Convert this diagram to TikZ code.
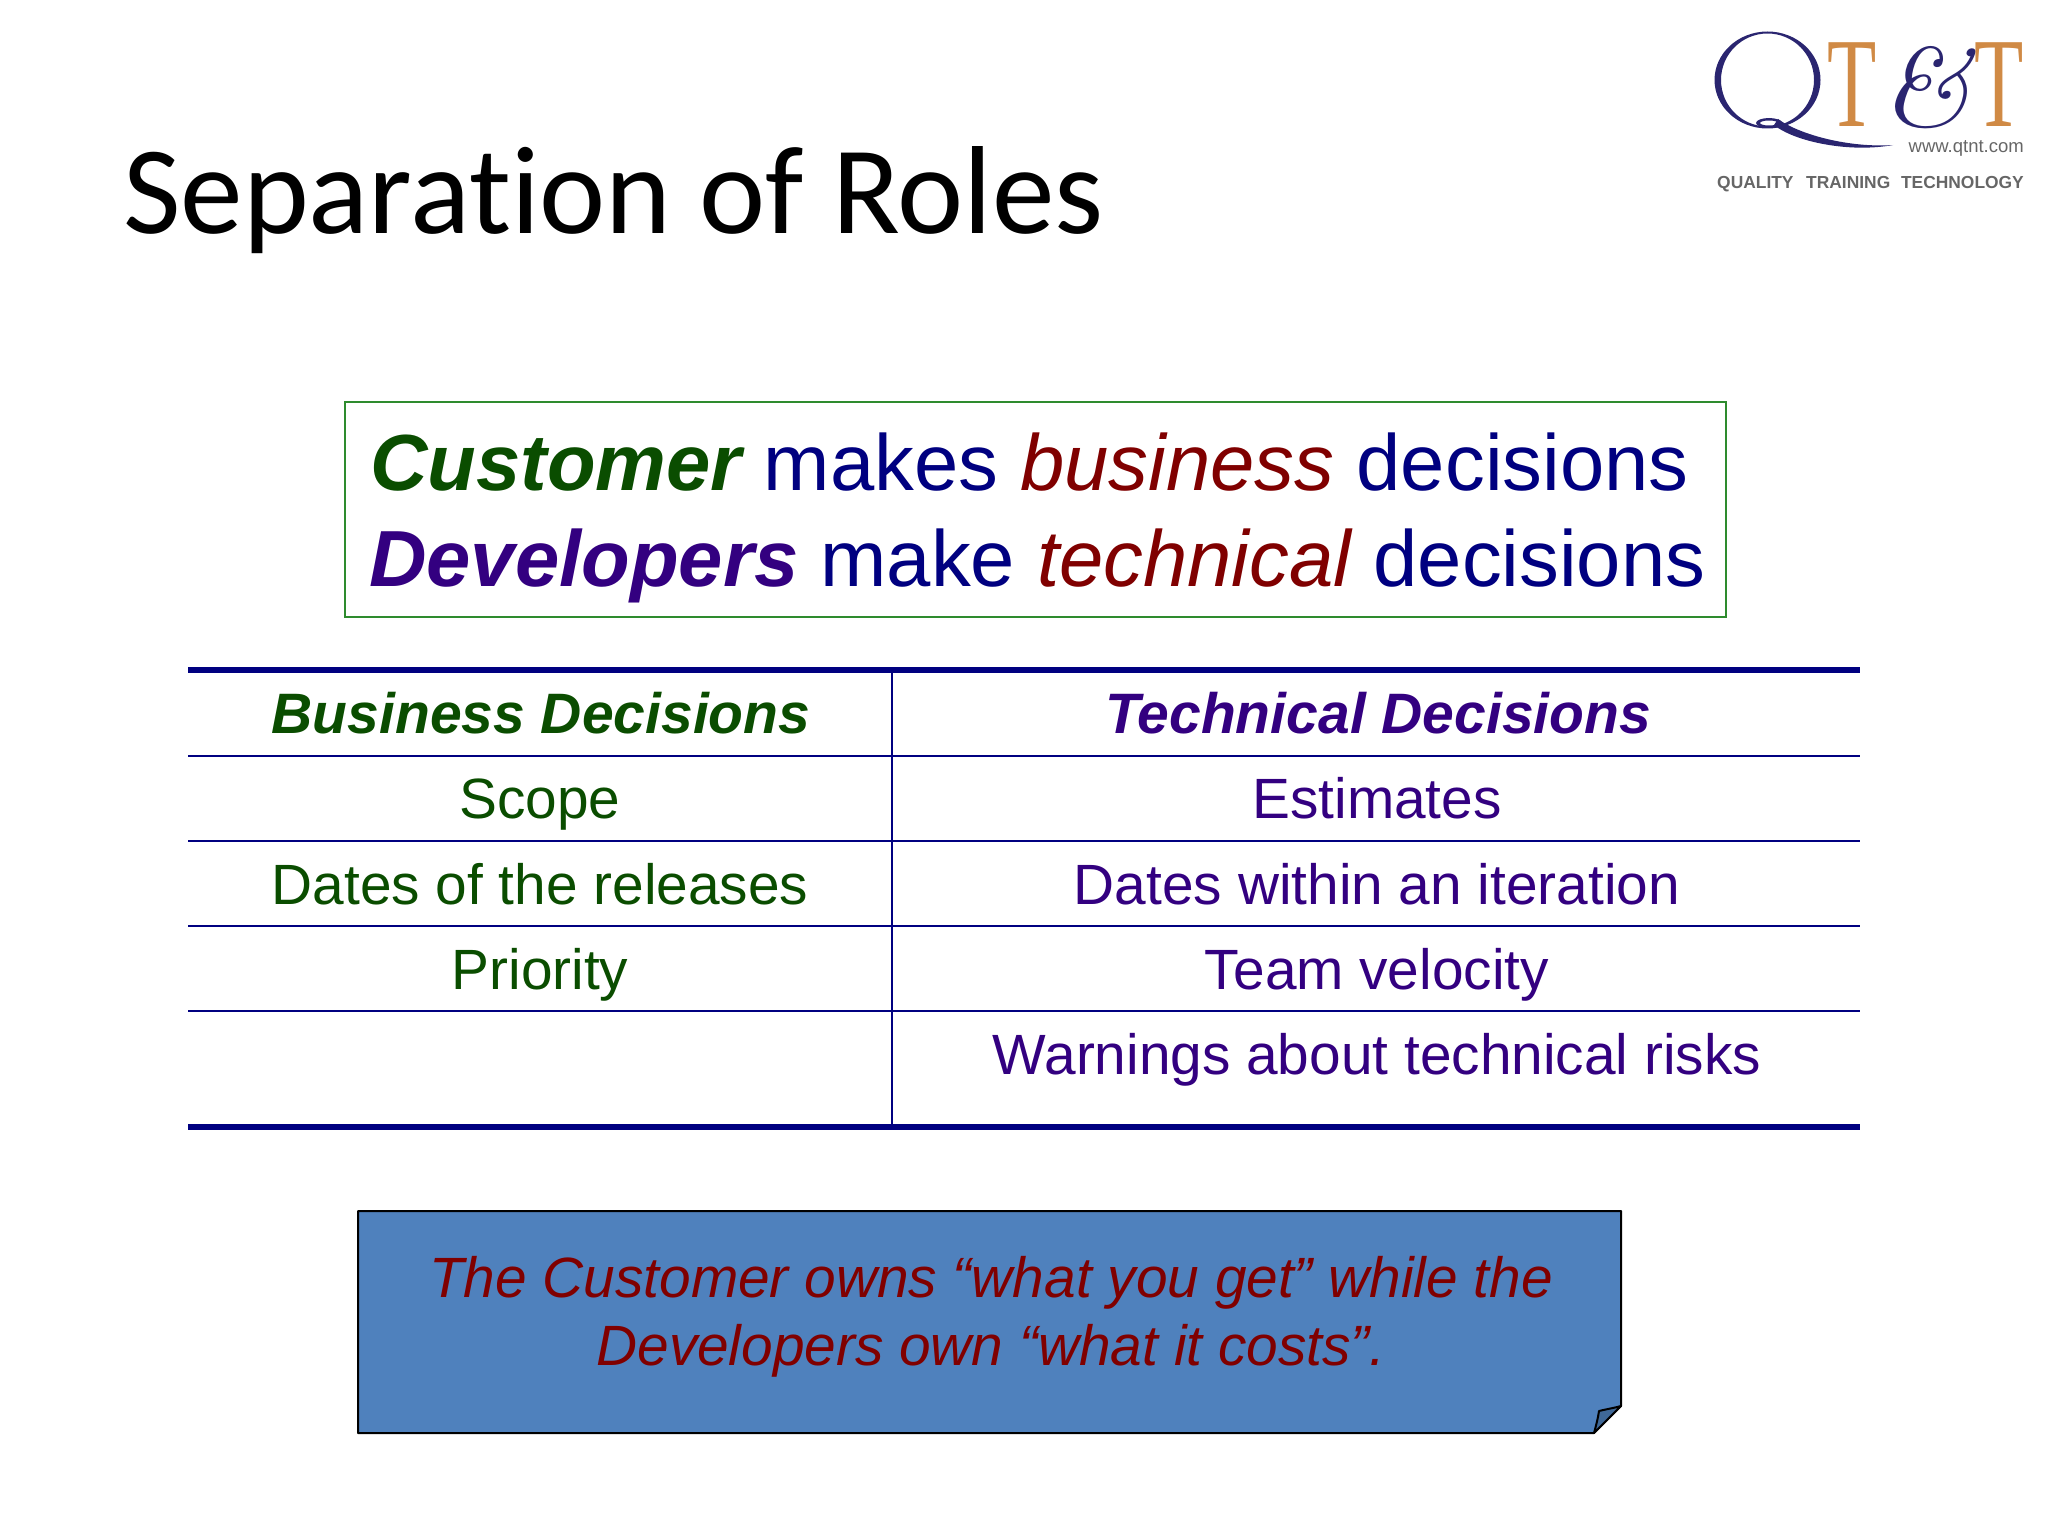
\documentclass[tikz,border=0pt]{standalone}
\usepackage{fontspec}
\setmainfont{Liberation Sans}
\newfontfamily\titlefont[Ligatures=NoCommon]{Carlito}
\newfontfamily\logofont{Liberation Serif}
\newfontfamily\ampfont{Latin Modern Roman}
\definecolor{bizgreen}{HTML}{0A4D00}
\definecolor{techpurple}{HTML}{330080}
\definecolor{navyline}{HTML}{000080}
\definecolor{darkred}{HTML}{800000}
\definecolor{boxgreen}{HTML}{2E8B2E}
\definecolor{calloutfill}{HTML}{4F81BD}
\definecolor{foldfill}{HTML}{3F6897}
\definecolor{logoblue}{HTML}{2A2570}
\definecolor{logoorange}{HTML}{D08A45}
\definecolor{logogray}{HTML}{666666}
\tikzset{
  x=1pt,y=-1pt,
  cell/.style={anchor=base,inner sep=0pt,font=\fontsize{56.8}{58}\selectfont},
  head/.style={cell,font=\fontsize{57}{58}\selectfont\bfseries\itshape},
  big/.style={anchor=base west,inner sep=0pt,font=\fontsize{79.6}{81}\selectfont},
  callouttext/.style={anchor=base,inner sep=0pt,text=darkred,font=\fontsize{56.8}{58}\selectfont\itshape},
  thickrule/.style={draw=navyline,line width=5.5pt},
  thinrule/.style={draw=navyline,line width=2.6pt},
  logoletter/.style={anchor=base,inner sep=0pt,xscale=0.63,text=logoorange,font=\fontsize{128}{128}\selectfont\logofont},
  logosmall/.style={inner sep=0pt,text=logogray,font=\fontsize{17.4}{18}\selectfont\bfseries},
}
\begin{document}
\begin{tikzpicture}
\useasboundingbox (0,0) rectangle (2048,1536);
\node[anchor=base west,inner sep=0pt,font=\fontsize{125.3}{125}\selectfont\titlefont] (title) at (123,233) {Separation of Roles};

% logo
\fill[logoblue,even odd rule] (1767.5,80) ellipse [x radius=53,y radius=48.5] (1767.5,80) ellipse [x radius=46.5,y radius=46.5];
\fill[logoblue,even odd rule] (1769,123) ellipse [x radius=13,y radius=5] (1769,123) ellipse [x radius=9,y radius=2.5];
\fill[logoblue] (1778,119) .. controls (1800,135) and (1850,148) .. (1893,145) .. controls (1850,153) and (1795,142) .. (1774,125) -- cycle;
\node[logoletter] (logot) at (1852,127) {T};
\node[anchor=base,inner sep=0pt,xscale=1.08,text=logoblue,font=\fontsize{112}{112}\selectfont\ampfont\itshape] (logoamp) at (1926,127) {\&};
\node[logoletter] (logotb) at (1999,127) {T};
\node[anchor=base east,inner sep=0pt,text=logogray,font=\fontsize{18.5}{19}\selectfont] (logourl) at (2024,153) {www.qtnt.com};
\node[logosmall,anchor=base west] (logoa) at (1717,188) {QUALITY};
\node[logosmall,anchor=base west] (logob) at (1806,188) {TRAINING};
\node[logosmall,anchor=base east] (logoc) at (2024,188) {TECHNOLOGY};

% statement box
\draw[boxgreen,line width=2pt,fill=white] (345,402) rectangle (1726,617);
\node[big] (line1) at (370,490) {\textcolor{bizgreen}{\bfseries\itshape Customer} \textcolor{navyline}{makes} \textcolor{darkred}{\itshape business} \textcolor{navyline}{decisions}};
\node[big] (line2) at (369,586) {\textcolor{techpurple}{\bfseries\itshape Developers} \textcolor{navyline}{make} \textcolor{darkred}{\itshape technical} \textcolor{navyline}{decisions}};

% table
\coordinate (tl0) at (188,670); \coordinate (tr0) at (1860,670);
\coordinate (tl1) at (188,756); \coordinate (tr1) at (1860,756);
\coordinate (tl2) at (188,841); \coordinate (tr2) at (1860,841);
\coordinate (tl3) at (188,926); \coordinate (tr3) at (1860,926);
\coordinate (tl4) at (188,1011); \coordinate (tr4) at (1860,1011);
\coordinate (tl5) at (188,1127); \coordinate (tr5) at (1860,1127);
\coordinate (vt) at (892,670); \coordinate (vb) at (892,1127);
\draw[thinrule] (vt) -- (vb);
\draw[thinrule] (tl1) -- (tr1);
\draw[thinrule] (tl2) -- (tr2);
\draw[thinrule] (tl3) -- (tr3);
\draw[thinrule] (tl4) -- (tr4);
\draw[thickrule] (tl0) -- (tr0);
\draw[thickrule] (tl5) -- (tr5);

\node[head,text=bizgreen] (h1) at (541,733) {Business Decisions};
\node[head,text=techpurple] (h2) at (1378,733) {Technical Decisions};
\node[cell,text=bizgreen] (a1) at (540,818) {Scope};
\node[cell,text=bizgreen] (a2) at (540,904) {Dates of the releases};
\node[cell,text=bizgreen] (a3) at (540,989) {Priority};
\node[cell,text=techpurple] (b1) at (1377,818) {Estimates};
\node[cell,text=techpurple] (b2) at (1377,904) {Dates within an iteration};
\node[cell,text=techpurple] (b3) at (1377,989) {Team velocity};
\node[cell,text=techpurple] (b4) at (1377,1074) {Warnings about technical risks};

% callout
\draw[black,line width=2pt,fill=calloutfill,line join=round] (358,1211) -- (1621,1211) -- (1621,1406) -- (1594,1433) -- (358,1433) -- cycle;
\draw[black,line width=2pt,fill=foldfill,line join=round] (1594,1433) .. controls (1596,1426) and (1598,1418) .. (1599,1411) .. controls (1607,1409) and (1614,1408) .. (1621,1406) -- cycle;
\node[callouttext] (c1) at (991,1297) {The Customer owns “what you get” while the};
\node[callouttext] (c2) at (991,1365) {Developers own “what it costs”.};
\end{tikzpicture}
\end{document}
